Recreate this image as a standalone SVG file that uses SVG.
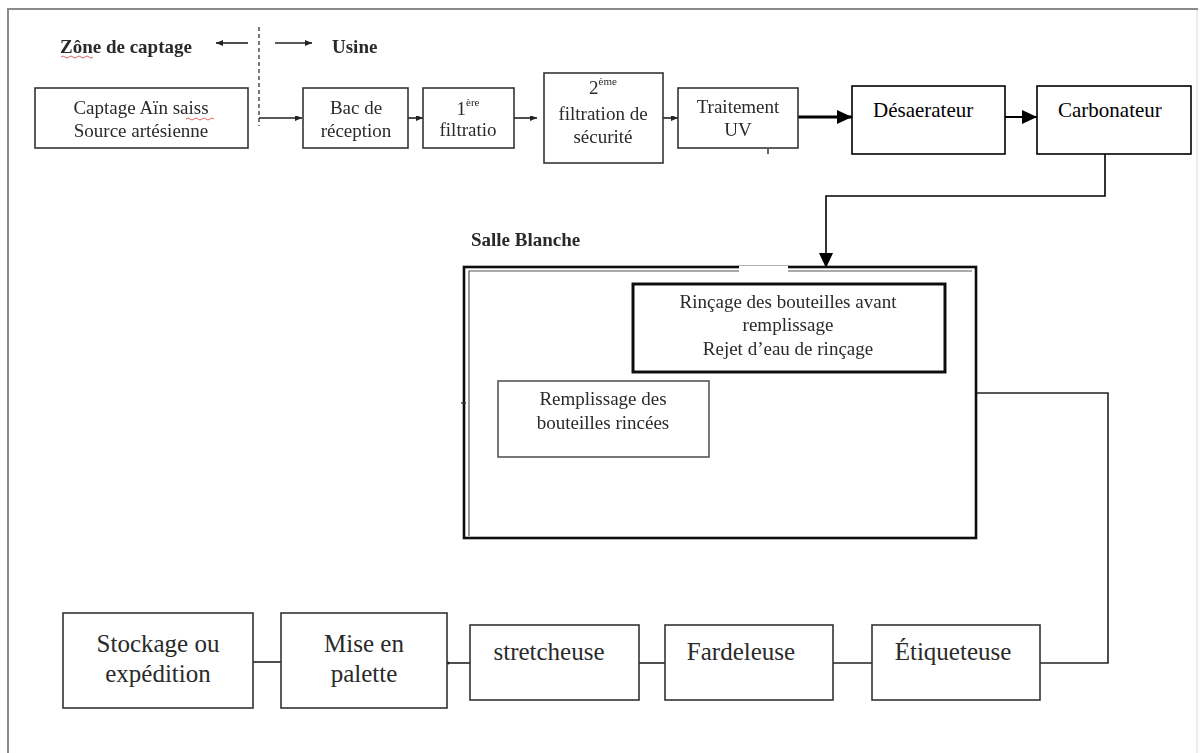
<svg xmlns="http://www.w3.org/2000/svg" width="1204" height="753" viewBox="0 0 1204 753">
  <style>
    .t { font-family: "Liberation Serif", "Times New Roman", serif; fill: #2a2a2a; }
    .soft { font-size: 19px; text-anchor: middle; }
    .crisp { font-size: 21px; fill: #000; }
    .big { font-size: 25px; text-anchor: middle; }
    .bold { font-weight: bold; font-size: 19px; }
    .box { fill: #fff; stroke: #333; stroke-width: 1.6; }
    .boxk { fill: #fff; stroke: #000; stroke-width: 1.6; }
    .ln { fill: none; stroke: #222; stroke-width: 1.6; }
    .sup { font-size: 11px; }
  </style>
  <defs>
    <marker id="ah" markerWidth="8" markerHeight="8" refX="7" refY="4" orient="auto" markerUnits="userSpaceOnUse">
      <path d="M0,1 L7,4 L0,7 Z" fill="#222"/>
    </marker>
    <marker id="tri" markerWidth="16" markerHeight="14" refX="15" refY="7" orient="auto" markerUnits="userSpaceOnUse">
      <path d="M0,0 L15,7 L0,14 Z" fill="#000"/>
    </marker>
    <filter id="soft" x="-5%" y="-5%" width="110%" height="110%">
      <feGaussianBlur stdDeviation="0.35"/>
    </filter>
  </defs>

  <rect width="1204" height="753" fill="#fff"/>

  <!-- page frame -->
  <path d="M8,753 V9 H1198" fill="none" stroke="#8a8a8a" stroke-width="2"/>
  <line x1="1197" y1="10" x2="1197" y2="753" stroke="#ececec" stroke-width="2"/>

  <!-- zone headings -->
  <g id="zones" filter="url(#soft)">
    <text class="t bold" x="60" y="53">Zône de captage</text>
    <path d="M61,57 q2,-2 4,0 t4,0 t4,0 t4,0 t4,0 t4,0 t4,0 t4,0" fill="none" stroke="#d04040" stroke-width="0.8"/>
    <text class="t bold" x="332" y="53">Usine</text>
    <line x1="259" y1="27" x2="259" y2="126" stroke="#333" stroke-width="1.3" stroke-dasharray="4,3"/>
    <line class="ln" x1="248" y1="43" x2="216" y2="43" marker-end="url(#ah)"/>
    <line class="ln" x1="275" y1="43" x2="312" y2="43" marker-end="url(#ah)"/>
  </g>

  <!-- connectors -->
  <g id="connectors">
    <g filter="url(#soft)">
      <line class="ln" x1="259" y1="118" x2="302" y2="118" marker-end="url(#ah)"/>
      <line class="ln" x1="408" y1="118" x2="423" y2="118" marker-end="url(#ah)"/>
      <line class="ln" x1="514" y1="118" x2="537" y2="118" marker-end="url(#ah)"/>
      <line class="ln" x1="663" y1="118" x2="678" y2="118" marker-end="url(#ah)"/>
      <line x1="768" y1="149" x2="768" y2="154" stroke="#333" stroke-width="1.5"/>
    </g>
    <line x1="798" y1="117" x2="852" y2="117" stroke="#000" stroke-width="3" marker-end="url(#tri)"/>
    <line x1="1005" y1="117" x2="1037" y2="117" stroke="#000" stroke-width="2" marker-end="url(#tri)"/>
    <path d="M1105,154 V196 H826 V268" fill="none" stroke="#000" stroke-width="1.6" marker-end="url(#tri)"/>
    <path d="M976,393 H1108 V663 H1040" class="ln"/>
    <line class="ln" x1="833" y1="663" x2="872" y2="663"/>
    <line class="ln" x1="639" y1="663" x2="665" y2="663"/>
    <line class="ln" x1="447" y1="663" x2="470" y2="663"/>
    <circle cx="448" cy="663" r="1.6" fill="#222"/>
    <line class="ln" x1="253" y1="662" x2="281" y2="662"/>
  </g>

  <!-- upstream chain -->
  <g id="captage" filter="url(#soft)">
    <rect class="box" x="35" y="88" width="213" height="60"/>
    <text class="t soft" x="141" y="114">Captage Aïn saiss</text>
    <path d="M186,119 q2,-2 4,0 t4,0 t4,0 t4,0 t4,0 t4,0 t4,0" fill="none" stroke="#d04040" stroke-width="0.8"/>
    <text class="t soft" x="141" y="137">Source artésienne</text>
  </g>
  <g id="bac" filter="url(#soft)">
    <rect class="box" x="303" y="88" width="105" height="60"/>
    <text class="t soft" x="356" y="114">Bac de</text>
    <text class="t soft" x="356" y="137">réception</text>
  </g>
  <g id="filtration1" filter="url(#soft)">
    <rect class="box" x="423" y="88" width="91" height="60"/>
    <text class="t soft" x="468" y="115">1<tspan class="sup" dy="-9">ère</tspan></text>
    <text class="t soft" x="468" y="136">filtratio</text>
  </g>
  <g id="filtration2" filter="url(#soft)">
    <rect class="box" x="544" y="73" width="119" height="90"/>
    <text class="t soft" x="603" y="94">2<tspan class="sup" dy="-9">ème</tspan></text>
    <text class="t soft" x="603" y="120">filtration de</text>
    <text class="t soft" x="603" y="143">sécurité</text>
  </g>
  <g id="uv" filter="url(#soft)">
    <rect class="box" x="678" y="88" width="120" height="60"/>
    <text class="t soft" x="738" y="113">Traitement</text>
    <text class="t soft" x="738" y="136">UV</text>
  </g>
  <g id="desaerateur">
    <rect class="boxk" x="852" y="86" width="153" height="68"/>
    <text class="t crisp" x="873" y="117">Désaerateur</text>
  </g>
  <g id="carbonateur">
    <rect class="boxk" x="1037" y="86" width="154" height="68"/>
    <text class="t crisp" x="1058" y="117">Carbonateur</text>
  </g>

  <!-- clean room -->
  <g id="salle-blanche" filter="url(#soft)">
    <text class="t bold" x="471" y="246">Salle Blanche</text>
    <rect x="464" y="267" width="512" height="271" fill="#fff" stroke="#111" stroke-width="2.6"/>
    <path d="M469,536 V271 H972" fill="none" stroke="#555" stroke-width="1.2"/>
    <line x1="461" y1="403" x2="466" y2="403" stroke="#333" stroke-width="1.4"/>
    <rect x="739" y="266" width="49" height="16" fill="#fff"/>
  </g>
  <g id="rincage" filter="url(#soft)">
    <rect x="633" y="284" width="312" height="88" fill="#fff" stroke="#111" stroke-width="3"/>
    <text class="t soft" x="788" y="308">Rinçage des bouteilles  avant</text>
    <text class="t soft" x="788" y="331">remplissage</text>
    <text class="t soft" x="788" y="355">Rejet d’eau de rinçage</text>
  </g>
  <g id="remplissage" filter="url(#soft)">
    <rect x="498" y="381" width="211" height="76" fill="#fff" stroke="#555" stroke-width="1.6"/>
    <text class="t soft" x="603" y="405">Remplissage des</text>
    <text class="t soft" x="603" y="429">bouteilles  rincées</text>
  </g>

  <!-- packaging line -->
  <g id="stockage">
    <rect class="box" x="63" y="613" width="190" height="95"/>
    <text class="t big" x="158" y="652">Stockage ou</text>
    <text class="t big" x="158" y="682">expédition</text>
  </g>
  <g id="palette">
    <rect class="box" x="281" y="613" width="166" height="95"/>
    <text class="t big" x="364" y="652">Mise en</text>
    <text class="t big" x="364" y="682">palette</text>
  </g>
  <g id="stretcheuse">
    <rect class="box" x="470" y="625" width="169" height="75"/>
    <text class="t big" x="549" y="660">stretcheuse</text>
  </g>
  <g id="fardeleuse">
    <rect class="box" x="665" y="625" width="168" height="75"/>
    <text class="t big" x="741" y="660">Fardeleuse</text>
  </g>
  <g id="etiqueteuse">
    <rect class="box" x="872" y="625" width="168" height="75"/>
    <text class="t big" x="953" y="660">Étiqueteuse</text>
  </g>
</svg>
